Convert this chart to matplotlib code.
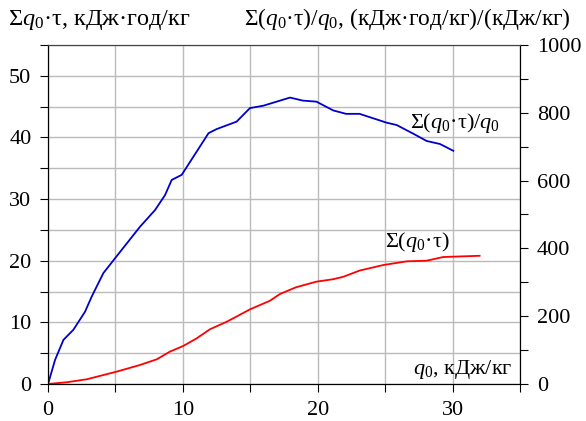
import matplotlib.pyplot as plt
from matplotlib.ticker import MultipleLocator

plt.rcParams['font.family'] = ['Liberation Serif', 'DejaVu Serif']
plt.rcParams['mathtext.fontset'] = 'custom'
plt.rcParams['mathtext.rm'] = 'Liberation Serif'
plt.rcParams['mathtext.it'] = 'Liberation Serif:italic'

# Σ(q0·τ)/q0, (кДж·год/кг)/(кДж/кг) -- right axis
ratio_q0 = [0, 0.52, 1.14, 1.88, 2.74, 3.24, 4.1, 4.97, 6.82, 7.93, 8.67,
            9.17, 9.91, 11.9, 12.5, 13.98, 14.97, 15.96, 16.95, 17.94, 18.9,
            19.9, 21.15, 22.1, 23.1, 24.1, 25.1, 25.85, 27.1, 28.07, 29.06,
            30.05]
ratio = [0, 71, 130, 160, 213, 258, 327, 371, 464, 513, 557, 602, 617, 740,
         752, 774, 814, 821, 833, 845, 836, 833, 807, 797, 797, 784, 771,
         764, 738, 717, 708, 688]

# Σ(q0·τ), кДж·год/кг -- left axis
total_q0 = [0, 1.38, 2.87, 5.09, 6.82, 8.06, 9.04, 10.03, 11.02, 12.0, 13.25,
            14.2, 14.97, 16.45, 17.2, 18.4, 19.9, 21.15, 21.9, 23.1, 24.86,
            26.6, 28.07, 29.3, 32.0]
total = [0, 0.27, 0.76, 2.0, 3.08, 4.0, 5.25, 6.17, 7.4, 8.87, 10.1, 11.2,
         12.1, 13.5, 14.6, 15.7, 16.6, 17.0, 17.4, 18.4, 19.3, 19.9, 20.0,
         20.6, 20.8]

fig = plt.figure(figsize=(5.86, 4.21), dpi=100)
ax = fig.add_axes([0.082, 0.088, 0.8055, 0.805])
ax2 = ax.twinx()

ax.plot(total_q0, total, color='red', lw=1.3)
ax2.plot(ratio_q0, ratio, color='#0000cc', lw=1.3)

ax.set_xlim(0, 35)
ax.set_ylim(0, 55)
ax2.set_ylim(0, 1000)

ax.xaxis.set_major_locator(MultipleLocator(10))
ax.xaxis.set_minor_locator(MultipleLocator(5))
ax.yaxis.set_major_locator(MultipleLocator(10))
ax.yaxis.set_minor_locator(MultipleLocator(5))
ax2.yaxis.set_major_locator(MultipleLocator(200))
ax2.yaxis.set_minor_locator(MultipleLocator(100))

ax.grid(which='both', color='#bbbbbb', lw=1)
ax.set_axisbelow(True)

for a in (ax, ax2):
    a.tick_params(which='both', direction='out', labelsize=16, width=0.8,
                  length=6, colors='black', pad=6)
    a.spines['top'].set_color('#444444')

fig.text(8 / 586, 1 - 25 / 421, r'Σ$q_0$·τ, кДж·год/кг', fontsize=17.5,
         ha='left', va='baseline')
fig.text(571 / 586, 1 - 25 / 421, r'Σ($q_0$·τ)/$q_0$, (кДж·год/кг)/(кДж/кг)',
         fontsize=16.8, ha='right', va='baseline')
ax.text(33.5, 41.6, r'Σ($q_0$·τ)/$q_0$', fontsize=16, ha='right',
        va='baseline')
ax.text(29.8, 22.2, r'Σ($q_0$·τ)', fontsize=16, ha='right', va='baseline')
ax.text(34.4, 1.6, r'$q_0$, кДж/кг', fontsize=16, ha='right', va='baseline')

fig.savefig('out.png', dpi=100)
